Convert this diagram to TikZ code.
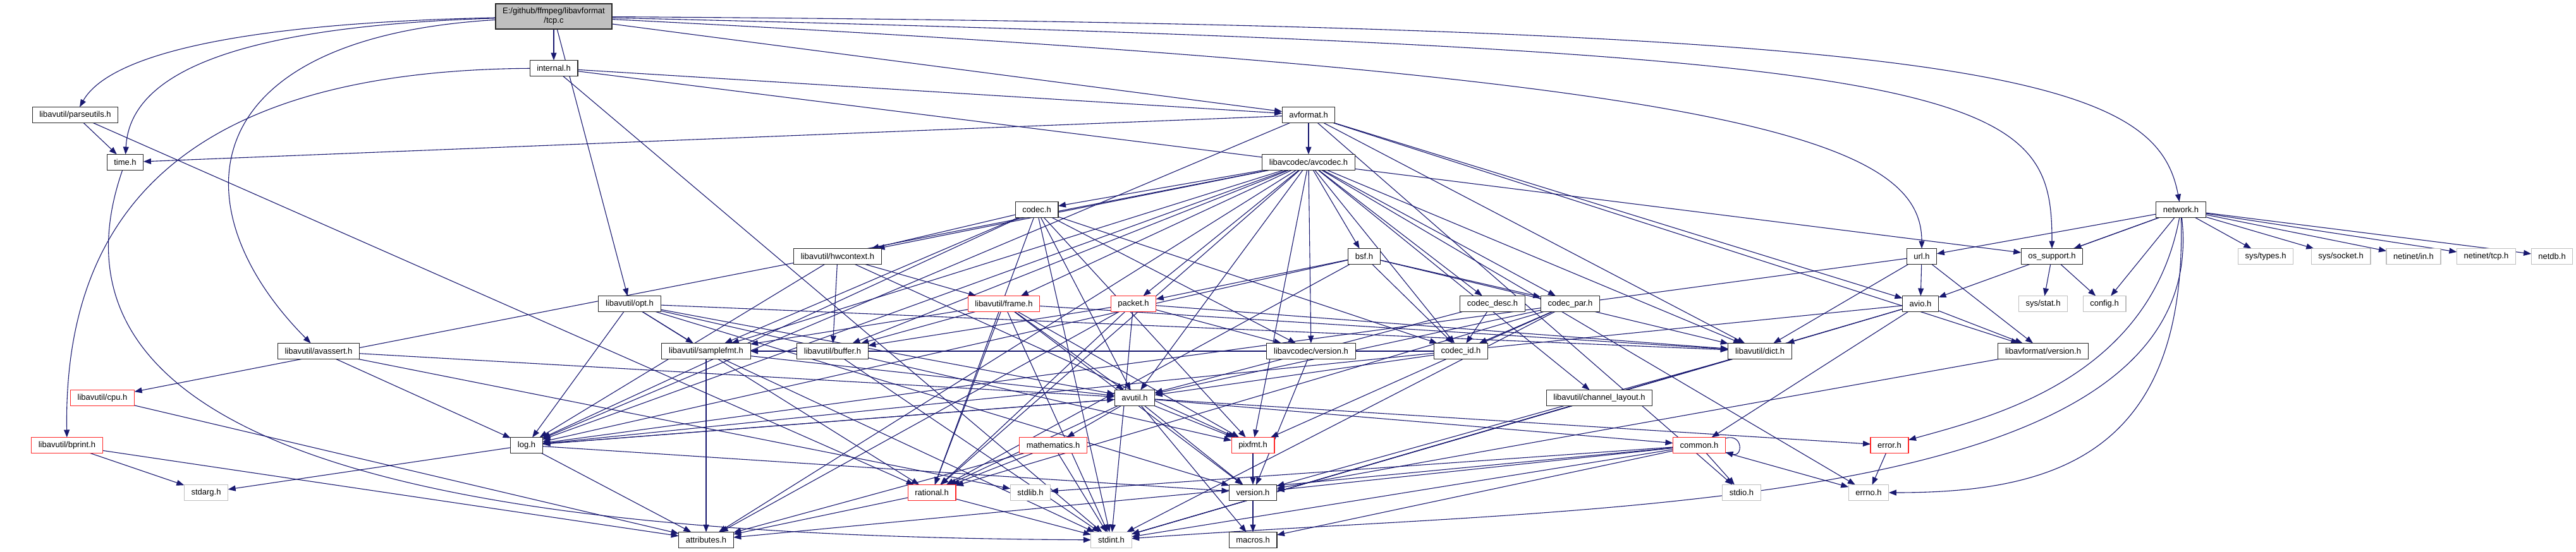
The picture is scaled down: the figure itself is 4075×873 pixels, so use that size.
\documentclass[tikz,border=0pt]{standalone}
\usepackage{fontspec}
\setmainfont{Liberation Sans}
\usepackage{tikz}
\usetikzlibrary{arrows.meta,backgrounds}
\definecolor{EdgeBlue}{RGB}{25,25,112}
\definecolor{SysGray}{RGB}{191,191,191}
\definecolor{CutRed}{RGB}{255,40,40}
\tikzset{
  filebox/.style={draw=black!85,fill=white,line width=0.55pt,minimum height=12.5pt,
    inner xsep=5.6pt,inner ysep=0pt,outer sep=0pt,font=\fontsize{6.5}{7.5}\selectfont},
  sysbox/.style={filebox,draw=SysGray},
  redbox/.style={filebox,draw=CutRed},
  rootbox/.style={filebox,fill=SysGray,minimum height=20pt,align=center},
  arrow/.style={-{Triangle[length=6pt,width=4.5pt]},line width=0.55pt,EdgeBlue}
}
\begin{document}
\begin{tikzpicture}[x=0.5pt,y=-0.5pt]
\useasboundingbox (0,0) rectangle (4075,873);
\node[rootbox] (tcp) at (876,26) {E:/github/ffmpeg/libavformat\\/tcp.c};
\node[filebox] (internal) at (876,108) {internal.h};
\node[filebox] (parseutils) at (119,182) {libavutil/parseutils.h};
\node[filebox] (avformat) at (2070,182) {avformat.h};
\node[filebox] (timeh) at (198,257) {time.h};
\node[filebox] (avcodec) at (2070,257) {libavcodec/avcodec.h};
\node[filebox] (codec) at (1640,332) {codec.h};
\node[filebox] (network) at (3450,332) {network.h};
\node[filebox] (hwcontext) at (1325,406) {libavutil/hwcontext.h};
\node[filebox] (bsf) at (2158,406) {bsf.h};
\node[filebox] (url) at (3040,406) {url.h};
\node[filebox] (ossupport) at (3246,406) {os\_support.h};
\node[sysbox] (systypes) at (3584,406) {sys/types.h};
\node[sysbox] (syssocket) at (3703,406) {sys/socket.h};
\node[sysbox] (netin) at (3818,406) {netinet/in.h};
\node[sysbox] (nettcp) at (3933,406) {netinet/tcp.h};
\node[sysbox] (netdb) at (4037,406) {netdb.h};
\node[filebox] (opt) at (996,481) {libavutil/opt.h};
\node[redbox] (frame) at (1588,481) {libavutil/frame.h};
\node[redbox] (packet) at (1793,481) {packet.h};
\node[filebox] (codecdesc) at (2361,481) {codec\_desc.h};
\node[filebox] (codecpar) at (2484,481) {codec\_par.h};
\node[filebox] (avio) at (3038,481) {avio.h};
\node[sysbox] (sysstat) at (3232,481) {sys/stat.h};
\node[sysbox] (config) at (3329,481) {config.h};
\node[filebox] (avassert) at (504,556) {libavutil/avassert.h};
\node[filebox] (samplefmt) at (1117,556) {libavutil/samplefmt.h};
\node[filebox] (buffer) at (1317,556) {libavutil/buffer.h};
\node[filebox] (avcversion) at (2074,556) {libavcodec/version.h};
\node[filebox] (codecid) at (2311,556) {codec\_id.h};
\node[filebox] (dict) at (2784,556) {libavutil/dict.h};
\node[filebox] (avfversion) at (3232,556) {libavformat/version.h};
\node[redbox] (cpu) at (162,630) {libavutil/cpu.h};
\node[filebox] (avutil) at (1795,630) {avutil.h};
\node[filebox] (chlayout) at (2530,630) {libavutil/channel\_layout.h};
\node[redbox] (bprint) at (106,705) {libavutil/bprint.h};
\node[filebox] (log) at (833,705) {log.h};
\node[redbox] (mathematics) at (1666,705) {mathematics.h};
\node[redbox] (pixfmt) at (1982,705) {pixfmt.h};
\node[redbox] (common) at (2688,705) {common.h};
\node[redbox] (error) at (2989,705) {error.h};
\node[sysbox] (stdarg) at (326,780) {stdarg.h};
\node[redbox] (rational) at (1474,780) {rational.h};
\node[sysbox] (stdlib) at (1630,780) {stdlib.h};
\node[filebox] (version) at (1982,780) {version.h};
\node[sysbox] (stdio) at (2755,780) {stdio.h};
\node[sysbox] (errno) at (2956,780) {errno.h};
\node[filebox] (attributes) at (1117,855) {attributes.h};
\node[sysbox] (stdint) at (1758,855) {stdint.h};
\node[filebox] (macros) at (1982,855) {macros.h};
\begin{scope}[on background layer]
\foreach \a/\b in {tcp/internal,tcp/avformat,tcp/opt,
    internal/stdint,internal/avformat,internal/ossupport,
    avformat/timeh,avformat/stdio,avformat/avcodec,avformat/dict,avformat/log,avformat/avio,avformat/avfversion,
    avcodec/errno,avcodec/samplefmt,avcodec/attributes,avcodec/avutil,avcodec/buffer,avcodec/cpu,avcodec/chlayout,
    avcodec/dict,avcodec/frame,avcodec/hwcontext,avcodec/log,avcodec/pixfmt,avcodec/rational,avcodec/bsf,
    avcodec/codec,avcodec/codecdesc,avcodec/codecpar,avcodec/codecid,avcodec/packet,avcodec/avcversion,
    codec/stdint,codec/avutil,codec/hwcontext,codec/log,codec/pixfmt,codec/rational,codec/samplefmt,codec/codecid,codec/avcversion,
    hwcontext/buffer,hwcontext/frame,hwcontext/log,hwcontext/pixfmt,
    bsf/dict,bsf/log,bsf/rational,bsf/codecid,bsf/codecpar,bsf/packet,
    opt/rational,opt/avutil,opt/dict,opt/log,opt/pixfmt,opt/samplefmt,opt/version,
    frame/avutil,frame/buffer,frame/dict,frame/rational,frame/samplefmt,frame/pixfmt,frame/version,frame/stdint,
    packet/attributes,packet/buffer,packet/dict,packet/rational,packet/avcversion,packet/stdint,
    codecdesc/avutil,codecdesc/codecid,
    codecpar/stdint,codecpar/avutil,codecpar/rational,codecpar/pixfmt,codecpar/codecid,
    codecid/avutil,codecid/samplefmt,avcversion/version,
    network/config,network/ossupport,network/avio,network/url,
    network/systypes,network/syssocket,network/netin,network/nettcp,network/netdb,
    url/avio,url/avfversion,url/dict,url/log,
    ossupport/config,ossupport/sysstat,
    avio/stdint,avio/common,avio/dict,avio/log,avio/avfversion,
    avfversion/version,dict/stdint,dict/version,
    avassert/stdlib,avassert/avutil,avassert/log,
    cpu/attributes,bprint/stdarg,bprint/attributes,
    parseutils/timeh,parseutils/rational,
    samplefmt/stdint,samplefmt/avutil,samplefmt/attributes,buffer/stdint,
    log/stdarg,log/avutil,log/attributes,log/version,
    avutil/common,avutil/error,avutil/rational,avutil/version,avutil/macros,avutil/mathematics,avutil/log,avutil/pixfmt,
    chlayout/stdint,mathematics/stdint,mathematics/attributes,mathematics/rational,
    pixfmt/version,rational/stdint,rational/attributes,version/macros,
    common/errno,common/stdint,common/stdio,common/stdlib,common/attributes,common/macros,common/version,
    error/errno}
  \draw[arrow] (\a) -- (\b);
\draw[arrow] (tcp) .. controls (320,38) and (165,100) .. (parseutils);
\draw[arrow] (tcp) .. controls (360,42) and (205,120) .. (timeh);
\draw[arrow] (tcp) .. controls (300,60) and (280,330) .. (avassert);
\draw[arrow] (tcp) .. controls (3150,40) and (3410,120) .. (network);
\draw[arrow] (tcp) .. controls (3150,80) and (3246,140) .. (ossupport);
\draw[arrow] (tcp) .. controls (2750,120) and (3040,220) .. (url);
\draw[arrow] (internal) .. controls (300,112) and (100,330) .. (bprint);
\draw[arrow] (timeh) .. controls (20,770) and (900,850) .. (stdint);
\draw[arrow] (network) .. controls (3505,820) and (2500,800) .. (stdint);
\draw[arrow] (network) .. controls (3460,720) and (3250,780) .. (errno);
\draw[arrow] (network) .. controls (3400,600) and (3150,660) .. (error);
\draw[arrow] (common.15) .. controls +(14pt,4pt) and +(14pt,-4pt) .. (common.-15);
\end{scope}
\end{tikzpicture}
\end{document}
